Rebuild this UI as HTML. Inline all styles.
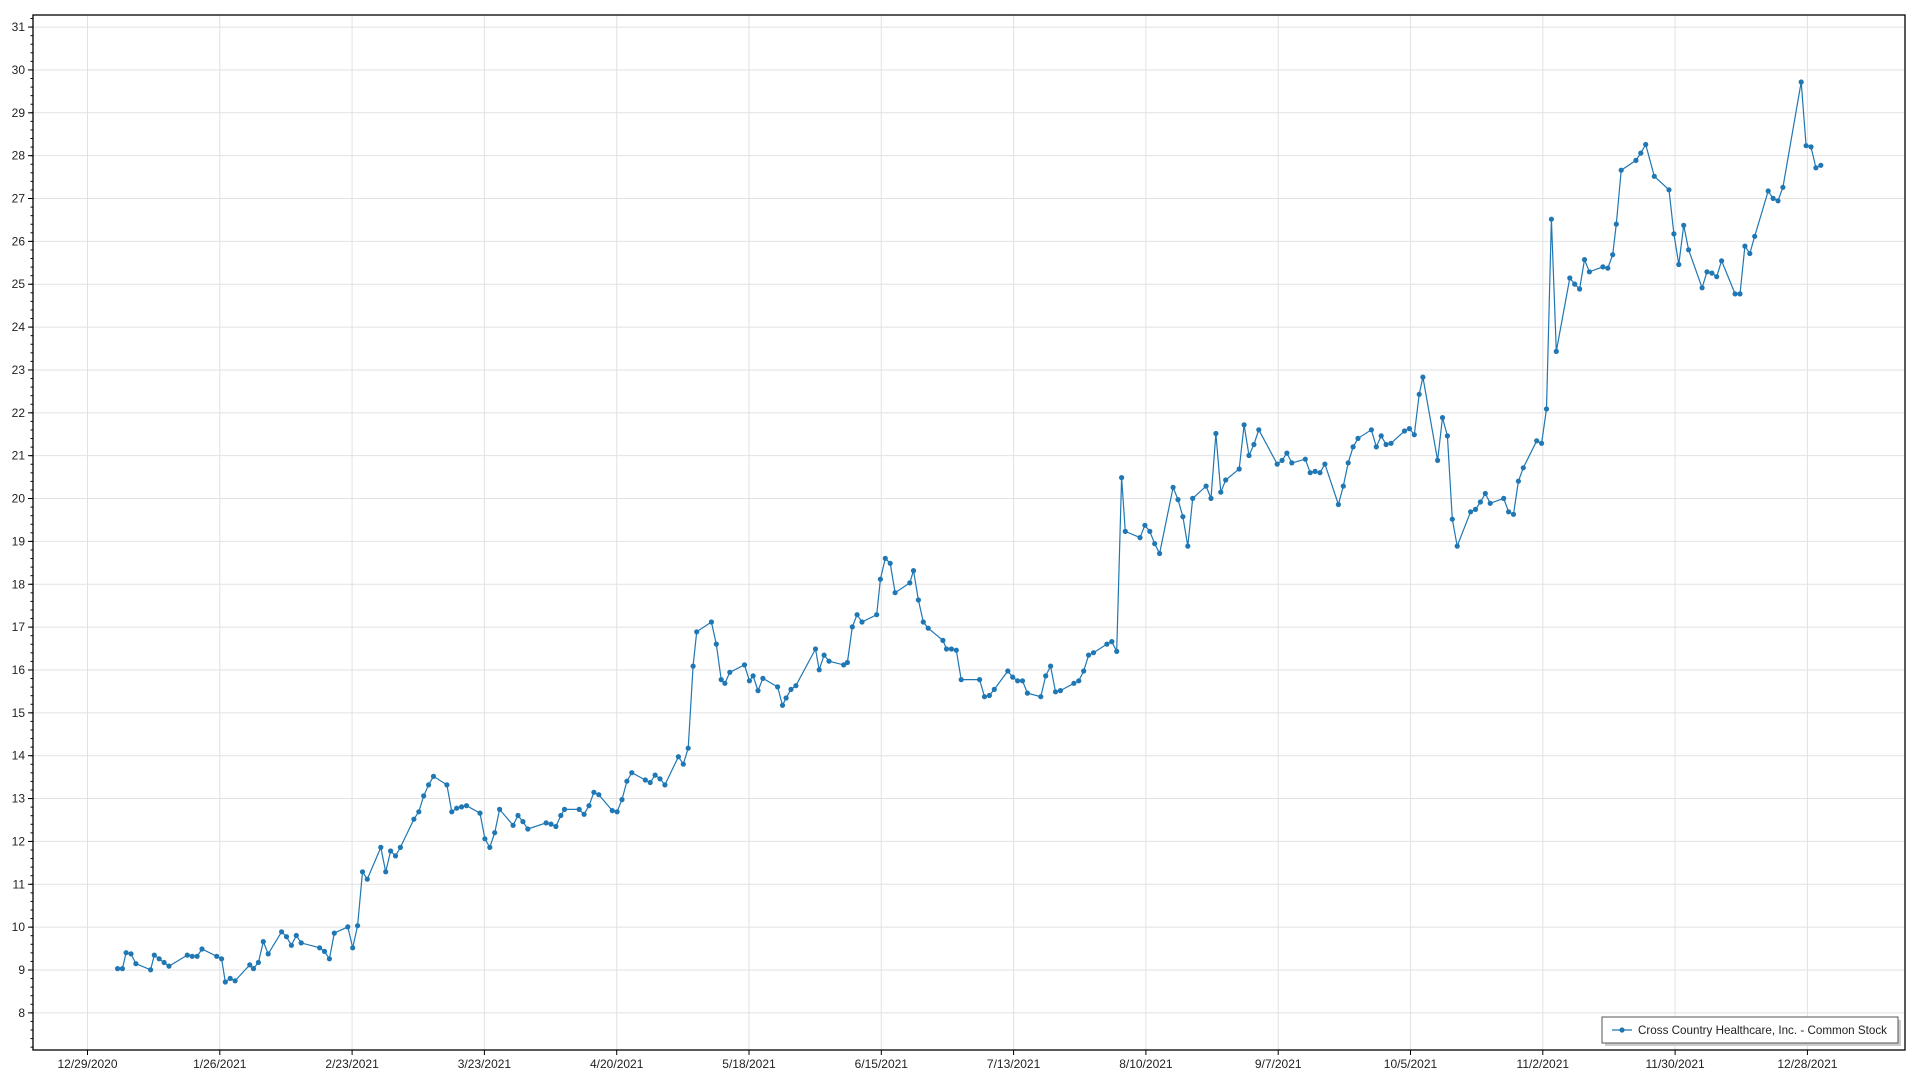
<!DOCTYPE html>
<html><head><meta charset="utf-8"><style>
html,body{margin:0;padding:0;background:#fff;width:1920px;height:1080px;overflow:hidden}
svg{display:block}
text{font-family:"Liberation Sans",sans-serif;font-size:12px;fill:#222}
</style></head><body>
<svg id="c" width="1920" height="1080" xmlns="http://www.w3.org/2000/svg"></svg>
<script>
var s=document.getElementById('c'),h='';
var L=33,T=15,R=1905,B=1050;
function Y(v){return 970-(v-9)*42.86;}
for(var v=8;v<=31;v++){var y=Y(v);h+='<line x1="'+L+'" x2="'+R+'" y1="'+y+'" y2="'+y+'" stroke="#e2e2e2"/>';
h+='<line x1="'+(L-5)+'" x2="'+L+'" y1="'+y+'" y2="'+y+'" stroke="#000"/>';
h+='<text x="'+(L-8)+'" y="'+(y+4)+'" text-anchor="end">'+v+'</text>';}
for(var m=7.2;m<31.5;m+=0.2){var y=Y(m);if(y>T&&y<B)h+='<line x1="'+(L-2.5)+'" x2="'+L+'" y1="'+y+'" y2="'+y+'" stroke="#000"/>';}
var labs=["12/29/2020","1/26/2021","2/23/2021","3/23/2021","4/20/2021","5/18/2021","6/15/2021","7/13/2021","8/10/2021","9/7/2021","10/5/2021","11/2/2021","11/30/2021","12/28/2021"];
for(var i=0;i<labs.length;i++){var x=87.5+i*132.3;h+='<line x1="'+x+'" x2="'+x+'" y1="'+T+'" y2="'+B+'" stroke="#e2e2e2"/>';
h+='<line x1="'+x+'" x2="'+x+'" y1="'+B+'" y2="'+(B+5)+'" stroke="#000"/>';
h+='<text x="'+x+'" y="'+(B+18)+'" text-anchor="middle">'+labs[i]+'</text>';}
h+='<rect x="'+L+'" y="'+T+'" width="'+(R-L)+'" height="'+(B-T)+'" fill="none" stroke="#000" stroke-width="1.3"/>';
var p="96,791 100,791 103,778 107,779 111,787 123,792 126,780 130,783 134,786 138,789 153,780 157,781 161,781 165,775 177,781 181,783 184,802 188,799 192,801 204,788 207,791 211,786 215,769 219,779 230,761 234,765 238,772 242,764 246,770 261,774 265,777 269,783 273,762 284,757 288,774 292,756 296,712 300,718 311,692 315,712 319,695 323,699 327,692 338,669 342,663 346,650 350,641 354,634 365,641 369,663 373,660 377,659 381,658 392,664 396,685 400,692 404,680 408,661 419,674 423,666 427,671 431,677 446,672 450,673 454,675 458,666 461,661 473,661 477,665 481,658 485,647 489,649 500,662 504,663 508,653 512,638 516,631 527,637 531,639 535,633 539,636 543,641 554,618 558,624 562,611 566,544 569,516 581,508 585,526 589,555 592,558 596,549 608,543 612,556 615,552 619,564 623,554 635,561 639,576 642,570 646,563 650,560 666,530 669,547 673,535 677,540 689,543 692,541 696,512 700,502 704,508 716,502 719,473 723,456 727,460 731,484 743,476 746,466 750,490 754,508 758,513 770,523 773,530 777,530 781,531 785,555 800,555 804,569 808,568 812,563 823,548 827,553 831,556 835,556 839,566 850,569 854,552 858,544 862,565 866,564 877,558 881,556 885,548 889,535 893,533 904,526 908,524 912,532 916,390 919,434 931,439 935,429 939,434 943,444 947,452 958,398 962,408 966,422 970,446 974,407 985,397 989,407 993,354 997,402 1001,392 1012,383 1016,347 1020,372 1024,363 1028,351 1043,379 1047,376 1051,370 1055,378 1066,375 1070,386 1074,385 1078,386 1082,379 1093,412 1097,397 1101,378 1105,365 1109,358 1120,351 1124,365 1128,356 1132,363 1136,362 1147,352 1151,350 1155,355 1159,322 1162,308 1174,376 1178,341 1182,356 1186,424 1190,446 1201,418 1205,416 1209,410 1213,403 1217,411 1228,407 1232,418 1236,420 1240,393 1244,382 1255,360 1259,362 1263,334 1267,179 1271,287 1282,227 1286,232 1290,236 1294,212 1298,222 1309,218 1313,219 1317,208 1320,183 1324,139 1336,131 1340,125 1344,118 1351,144 1363,155 1367,191 1371,216 1375,184 1379,204 1390,235 1394,222 1398,223 1402,226 1406,213 1417,240 1421,240 1425,201 1429,207 1433,193 1444,156 1448,162 1452,164 1456,153 1471,67 1475,119 1479,120 1483,137 1487,135".split(" ");
var k=1.2245,pts=[],dots='';
for(var i=0;i<p.length;i++){var a=p[i].split(",");var x=(+a[0]*k).toFixed(1),y=(+a[1]*k).toFixed(1);pts.push(x+","+y);dots+='<circle cx="'+x+'" cy="'+y+'" r="2.6"/>';}
h+='<polyline points="'+pts.join(" ")+'" fill="none" stroke="#1f77b4" stroke-width="1.2"/>';
h+='<g fill="#1f77b4">'+dots+'</g>';
h+='<rect x="1605" y="1020" width="296" height="26" fill="#ccc"/>';
h+='<rect x="1602" y="1017" width="296" height="26" fill="#fff" stroke="#555" stroke-width="1"/>';
h+='<line x1="1612" x2="1632" y1="1030" y2="1030" stroke="#1f77b4" stroke-width="1.2"/><circle cx="1622" cy="1030" r="2.6" fill="#1f77b4"/>';
h+='<text x="1638" y="1034" textLength="249" lengthAdjust="spacingAndGlyphs">Cross Country Healthcare, Inc. - Common Stock</text>';
s.innerHTML=h;
</script>
</body></html>
